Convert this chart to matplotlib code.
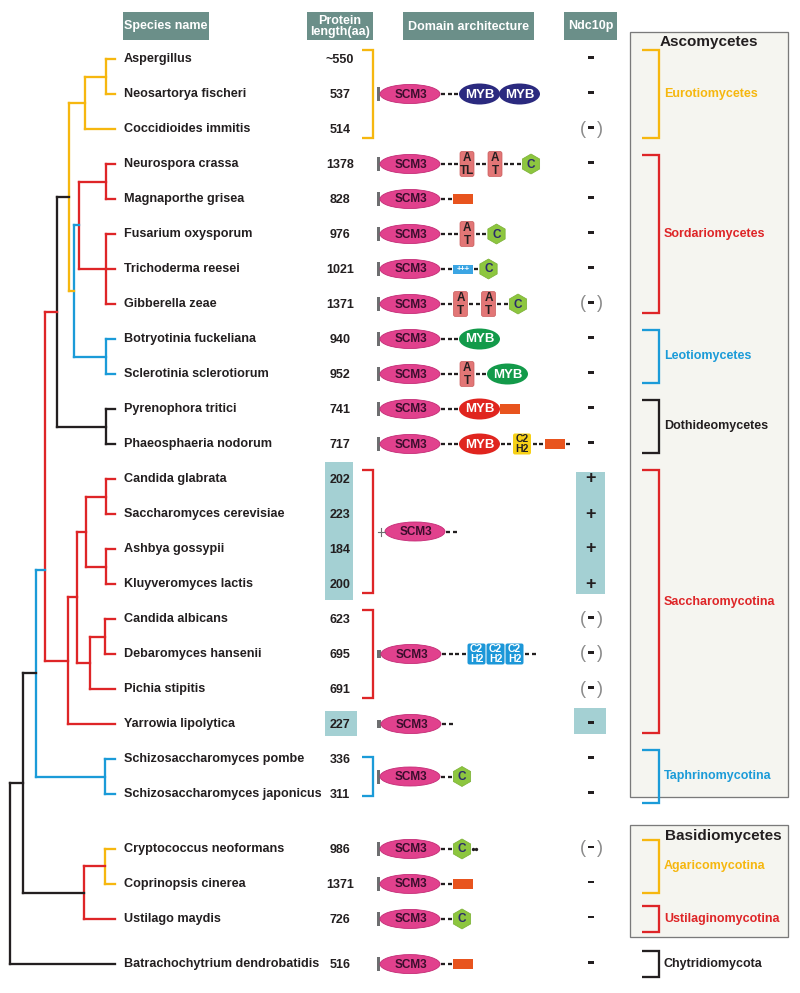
import matplotlib
matplotlib.use("Agg")
import matplotlib.pyplot as plt
from matplotlib.patches import Rectangle, Ellipse, RegularPolygon, FancyBboxPatch

plt.rcParams["font.family"] = ["Liberation Sans", "DejaVu Sans"]

# ---- data ----
SPECIES = [
    "Aspergillus", "Neosartorya fischeri", "Coccidioides immitis",
    "Neurospora crassa", "Magnaporthe grisea", "Fusarium oxysporum",
    "Trichoderma reesei", "Gibberella zeae", "Botryotinia fuckeliana",
    "Sclerotinia sclerotiorum", "Pyrenophora tritici", "Phaeosphaeria nodorum",
    "Candida glabrata", "Saccharomyces cerevisiae", "Ashbya gossypii",
    "Kluyveromyces lactis", "Candida albicans", "Debaromyces hansenii",
    "Pichia stipitis", "Yarrowia lipolytica", "Schizosaccharomyces pombe",
    "Schizosaccharomyces japonicus", "Cryptococcus neoformans",
    "Coprinopsis cinerea", "Ustilago maydis", "Batrachochytrium dendrobatidis",
]
LENGTHS = ["~550", "537", "514", "1378", "828", "976", "1021", "1371", "940",
           "952", "741", "717", "202", "223", "184", "200", "623", "695",
           "691", "227", "336", "311", "986", "1371", "726", "516"]
NDC10P = ["-", "-", "(-)", "-", "-", "-", "-", "(-)", "-", "-", "-", "-",
          "+", "+", "+", "+", "(-)", "(-)", "(-)", "-", "-", "-", "(-)",
          "-", "-", "-"]

# tree: (colour, branch depth, children[, stem fraction]); ints are leaf rows
TREE = ("k", 10, [
    ("k", 23, [
        ("b", 36, [
            ("r", 45, [
                ("k", 57, [
                    ("y", 69, [
                        ("y", 85, [("y", 106, [0, 1]), 2]),
                        ("b", 74, [
                            ("r", 79, [("r", 106, [3, 4]), ("r", 106, [5, 6, 7])]),
                            ("b", 106, [8, 9]),
                        ]),
                    ]),
                    ("k", 106, [10, 11]),
                ]),
                ("r", 68, [
                    ("r", 77, [
                        ("r", 86, [("r", 106, [12, 13]), ("r", 106, [14, 15])]),
                        ("r", 90, [("r", 105, [16, 17]), 18]),
                    ]),
                    19,
                ]),
            ], 0.74),
            ("b", 105, [20, 21]),
        ]),
        ("r", 84, [("y", 105, [22, 23]), 24]),
    ]),
    25,
])

# domain architectures: (first row, last row, tokens)
ARCH = [
    (0, 2, "cap scm3 -3 myb_navy myb_navy"),
    (3, 3, "cap scm3 -3 at_TL -2 at_T -3 c"),
    (4, 4, "cap scm3 -2 rect"),
    (5, 5, "cap scm3 -3 at_T -2 c"),
    (6, 6, "cap scm3 -2 plus -1 c"),
    (7, 7, "cap scm3 -2 at_T -2 at_T -2 c"),
    (8, 8, "cap scm3 -3 myb_green"),
    (9, 9, "cap scm3 -3 at_T -2 myb_green"),
    (10, 10, "cap scm3 -3 myb_red rect"),
    (11, 11, "cap scm3 -3 myb_red -2 zf_y -2 rect -1"),
    (12, 15, "tick scm3 -2"),
    (16, 18, "sq scm3 -4 zf_b zf_b zf_b -2"),
    (19, 19, "sq scm3 -2"),
    (20, 21, "cap scm3 -2 c"),
    (22, 22, "cap scm3 -2 c dots"),
    (23, 23, "cap scm3 -2 rect"),
    (24, 24, "cap scm3 -2 c"),
    (25, 25, "cap scm3 -2 rect"),
]

LENGTH_BRACKETS = [(0, 2, "y"), (12, 15, "r"), (16, 18, "r"), (20, 21, "b")]
HIGHLIGHT_ROWS = [(12, 15), (19, 19)]

CLADES = [
    ("Eurotiomycetes", 0, 2, "y"),
    ("Sordariomycetes", 3, 7, "r"),
    ("Leotiomycetes", 8, 9, "b"),
    ("Dothideomycetes", 10, 11, "k"),
    ("Saccharomycotina", 12, 19, "r"),
    ("Taphrinomycotina", 20, 21, "b"),
    ("Agaricomycotina", 22, 23, "y"),
    ("Ustilaginomycotina", 24, 24, "r"),
    ("Chytridiomycota", 25, 25, "k"),
]
GROUP_BOXES = [("Ascomycetes", 0, 21), ("Basidiomycetes", 22, 24)]

# ---- styling ----
COL = {"y": "#f6b70f", "r": "#de2527", "b": "#1b9bd8", "k": "#231f20"}
HEADER = "#6b8f89"
HILITE = "#a4d0d3"
TEXT = "#231f20"
PX = 0.72  # points per pixel at dpi 100
LW = 2.3 * PX
TIP_X = 115

W, H = 800, 993
fig = plt.figure(figsize=(W / 100, H / 100), dpi=100)
ax = fig.add_axes([0, 0, 1, 1])
ax.set_xlim(0, W)
ax.set_ylim(H, 0)
ax.axis("off")

# row centres: uniform spacing with extra gaps between some groups
extra_gap = {21: 0.57, 24: 0.29}
row_y = []
slot = 0.0
for i in range(len(SPECIES)):
    row_y.append(59 + 35 * slot)
    slot += 1 + extra_gap.get(i, 0)


def mid(a, b):
    return (row_y[a] + row_y[b]) / 2


# ---- headers ----
for x0, x1, label in [(123, 209, "Species name"), (307, 373, "Protein\nlength(aa)"),
                      (403, 534, "Domain architecture"), (564, 617, "Ndc10p")]:
    ax.add_patch(Rectangle((x0, 12), x1 - x0, 28, color=HEADER, lw=0))
    ax.text((x0 + x1) / 2, 26.5, label, ha="center", va="center", color="white",
            fontsize=9, fontweight="bold", linespacing=0.95)


# ---- tree ----
def draw_node(node):
    colour, depth, children = node[:3]
    stem = node[3] if len(node) > 3 else 0.5
    ys = []
    for ch in children:
        if isinstance(ch, int):
            cy, cx = row_y[ch], TIP_X
        else:
            cy, cx = draw_node(ch)
        ax.plot([depth, cx], [cy, cy], color=COL[colour], lw=LW,
                solid_capstyle="projecting")
        ys.append(cy)
    ax.plot([depth, depth], [min(ys), max(ys)], color=COL[colour], lw=LW,
            solid_capstyle="projecting")
    return min(ys) + stem * (max(ys) - min(ys)), depth


draw_node(TREE)

# ---- highlight boxes ----
for a, b in HIGHLIGHT_ROWS:
    if a == b:
        ax.add_patch(Rectangle((325, row_y[a] - 13), 32, 25, color=HILITE, lw=0))
        ax.add_patch(Rectangle((574, row_y[a] - 16), 32, 26, color=HILITE, lw=0))
    else:
        ax.add_patch(Rectangle((325, row_y[a] - 17), 28, row_y[b] - row_y[a] + 33,
                               color=HILITE, lw=0))
        ax.add_patch(Rectangle((576, row_y[a] - 7), 29, row_y[b] - row_y[a] + 17,
                               color=HILITE, lw=0))

# ---- names, lengths, Ndc10p ----
for i, name in enumerate(SPECIES):
    y = row_y[i]
    ax.text(124, y, name, ha="left", va="center", fontsize=9.1,
            fontweight="bold", color=TEXT)
    ax.text(340, y + 1, LENGTHS[i], ha="center", va="center", fontsize=9,
            fontweight="bold", color=TEXT)
    sym = NDC10P[i]
    if sym == "+":
        ax.text(591, y, "+", ha="center", va="center", fontsize=13,
                fontweight="bold", color=TEXT)
    else:
        ax.add_patch(Rectangle((588, y - 3.3), 6, 2.8, color=TEXT, lw=0))
        if sym == "(-)":
            for px, ch in [(583, "("), (600, ")")]:
                ax.text(px, y, ch, ha="center", va="center", fontsize=13,
                        color="#8a8a8a")

# ---- protein length brackets ----
for a, b, c in LENGTH_BRACKETS:
    pad = 9 if b - a > 1 else 2
    y0, y1 = row_y[a] - pad, row_y[b] + pad
    ax.plot([362, 373, 373, 362], [y0, y0, y1, y1], color=COL[c], lw=LW,
            solid_joinstyle="miter", solid_capstyle="butt")


# ---- domain architectures ----
def draw_arch(tokens, y):
    x = 377
    for tok in tokens.split():
        if tok == "cap":
            ax.add_patch(Rectangle((x, y - 7), 3, 14, color="#6d6e70", lw=0))
            x += 3
        elif tok == "sq":
            ax.add_patch(Rectangle((x, y - 4), 4, 8, color="#6d6e70", lw=0))
            x += 4
        elif tok == "tick":
            ax.plot([x + 1, x + 8], [y, y], color="#6d6e70", lw=0.8)
            ax.plot([x + 4, x + 4], [y - 4, y + 4], color="#6d6e70", lw=0.8)
            x += 8
        elif tok == "scm3":
            ax.add_patch(Ellipse((x + 30, y), 60, 19, fc="#e1418d", ec="#c42a75",
                                 lw=0.6))
            ax.text(x + 31, y + 0.5, "SCM3", ha="center", va="center", fontsize=8.5,
                    fontweight="bold", color="#3a0d2c")
            x += 60
        elif tok.startswith("-"):
            n = int(tok[1:])
            for k in range(n):
                xs = x + 1.2 + k * 6.5
                ax.plot([xs, xs + 4.2], [y, y], color=TEXT, lw=LW,
                        solid_capstyle="butt")
            x += 6.5 * n
        elif tok.startswith("myb"):
            fc = {"navy": "#2b2a7f", "green": "#139a4a", "red": "#e0251f"}[tok[4:]]
            ax.add_patch(Ellipse((x + 20, y), 41, 21, fc=fc, lw=0))
            ax.text(x + 20, y + 0.5, "MYB", ha="center", va="center", fontsize=9.5,
                    fontweight="bold", color="white")
            x += 40
        elif tok.startswith("at"):
            ax.add_patch(FancyBboxPatch((x + 0.5, y - 12.5), 14, 25,
                                        boxstyle="round,pad=0,rounding_size=2",
                                        fc="#e27676", ec="#c95b5b", lw=0.5))
            ax.text(x + 7.5, y - 6, "A", ha="center", va="center", fontsize=8.5,
                    fontweight="bold", color=TEXT)
            ax.text(x + 7.5, y + 6.5, tok[3:], ha="center", va="center", fontsize=8.5,
                    fontweight="bold", color=TEXT)
            x += 15
        elif tok == "c":
            ax.add_patch(RegularPolygon((x + 9, y), 6, radius=10, fc="#8dc63f",
                                        ec="#7aaf33", lw=0.5))
            ax.text(x + 9, y + 0.5, "C", ha="center", va="center", fontsize=8.5,
                    fontweight="bold", color="#2b2a6b")
            x += 18
        elif tok == "rect":
            ax.add_patch(Rectangle((x, y - 5), 20, 10, color="#e8541e", lw=0))
            x += 20
        elif tok == "plus":
            ax.add_patch(Rectangle((x, y - 4.5), 20, 9, color="#3ba5e3", lw=0))
            ax.text(x + 10, y, "+++", ha="center", va="center", fontsize=5.5,
                    fontweight="bold", color="white")
            x += 20
        elif tok.startswith("zf"):
            fc, tc = ("#f7d117", TEXT) if tok == "zf_y" else ("#1c97d8", "white")
            ax.add_patch(FancyBboxPatch((x + 0.5, y - 10.5), 18, 21,
                                        boxstyle="round,pad=0,rounding_size=2",
                                        fc=fc, lw=0))
            ax.text(x + 9.5, y - 4.5, "C2", ha="center", va="center", fontsize=7.5,
                    fontweight="bold", color=tc)
            ax.text(x + 9.5, y + 5.5, "H2", ha="center", va="center", fontsize=7.5,
                    fontweight="bold", color=tc)
            x += 19
        elif tok == "dots":
            ax.plot([x + 2, x + 5], [y, y], ls="none", marker="o", ms=1.4,
                    color=TEXT)
            x += 6


for a, b, tokens in ARCH:
    draw_arch(tokens, mid(a, b))

# ---- right-hand classification ----
for title, a, b in GROUP_BOXES:
    if a == 0:
        y0, y1, ty, tx = 32, 797, 42, 709
    else:
        y0, y1, ty, tx = 825, 937, 836, 723
    ax.add_patch(Rectangle((630, y0), 158, y1 - y0, fc="#f5f5f0", ec="#7a7a7a",
                           lw=1.3 * PX))
    ax.text(tx, ty, title, ha="center", va="center", fontsize=11,
            fontweight="bold", color=TEXT)

for label, a, b, c in CLADES:
    pad = 13 if a == b else 9
    y0, y1 = row_y[a] - pad, row_y[b] + pad
    ax.plot([642, 659, 659, 642], [y0, y0, y1, y1], color=COL[c], lw=LW,
            solid_joinstyle="miter", solid_capstyle="butt")
    ax.text(664, mid(a, b), label, ha="left", va="center", fontsize=9,
            fontweight="bold", color=COL[c])

fig.savefig("out.png", dpi=100)
